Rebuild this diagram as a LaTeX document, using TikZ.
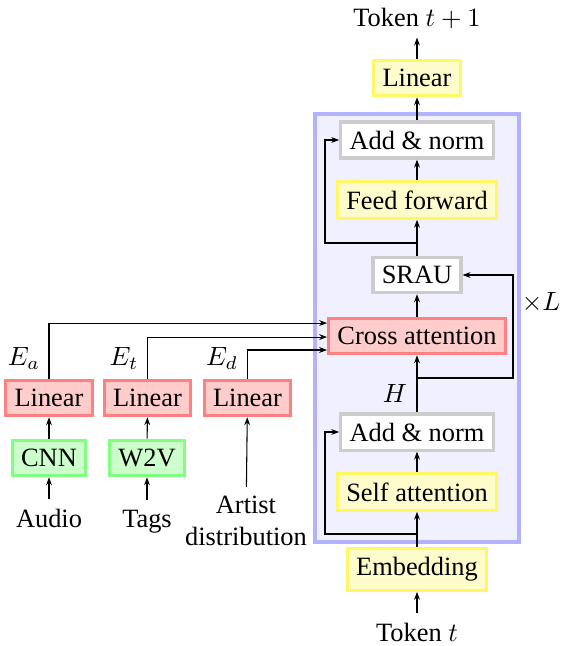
\documentclass[tikz,border=0pt]{standalone}
\usepackage{fontspec}
\setmainfont{Liberation Serif}
\usetikzlibrary{arrows.meta}
\begin{document}
\begin{tikzpicture}[x=0.3788pt,y=-0.3788pt,
  box/.style={draw, very thick, inner sep=3.33pt},
  ybox/.style={box, draw=yellow!60, fill=yellow!20},
  rbox/.style={box, draw=red!50, fill=red!20},
  gbox/.style={box, draw=green!50, fill=green!20},
  wbox/.style={box, draw=gray!40, fill=white},
  arr/.style={-{Stealth[length=3pt,width=2.2pt]}, thin}]
\useasboundingbox (0,0) rectangle (560,646);
\draw[very thick, draw=blue!30, fill=blue!6] (315,114) rectangle (519,542);
% central column
\node (tok1) at (417,18) {Token $t+1$};
\node[ybox] (lin) at (417,78) {Linear};
\node[wbox] (an2) at (417,140) {Add \& norm};
\node[ybox] (ff) at (417,200) {Feed forward};
\node[wbox] (srau) at (417,275) {SRAU};
\node[rbox] (ca) at (417,336) {Cross attention};
\node[wbox] (an1) at (417,432) {Add \& norm};
\node[ybox] (sa) at (417,492) {Self attention};
\node[ybox] (emb) at (417,569.5) {Embedding};
\node (tok) at (417,632) {Token $t$};
\node (H) at (395,393) {$H$};
\node (xl) at (541,303) {$\times L$};
% left side
\node[rbox] (la) at (49,398) {Linear};
\node[rbox] (lt) at (147.5,398) {Linear};
\node[rbox] (ld) at (247.5,398) {Linear};
\node[gbox] (cnn) at (49,458) {CNN};
\node[gbox] (w2v) at (147,458) {W2V};
\node[anchor=base] (audio) at (49,527) {Audio};
\node[anchor=base] (tags) at (147,527) {Tags};
\node[align=center] (artist) at (246,521) {Artist\\distribution};
\node (ea) at (24,358) {$E_a$};
\node (et) at (124,358) {$E_t$};
\node (ed) at (222,358) {$E_d$};
% coordinates
\coordinate (s1) at (417,534);
\coordinate (k1) at (325,432);
\coordinate (s2) at (417,378);
\coordinate (k2) at (513,275);
\coordinate (s3) at (417,243);
\coordinate (k3) at (325,140);
% arrows
\draw[arr] (audio) -- (cnn);
\draw[arr] (cnn) -- (la);
\draw[arr] (tags) -- (w2v);
\draw[arr] (w2v) -- (lt);
\draw[arr] (artist) -- (ld);
\draw[arr] (la.north) |- ([yshift=4.9pt]ca.west);
\draw[arr] (lt.north) |- ([yshift=-0.4pt]ca.west);
\draw[arr] (ld.north) |- ([yshift=-5.3pt]ca.west);
\draw[arr] (tok) -- (emb);
\draw[arr] (emb) -- (sa);
\draw[arr] (s1) -| (k1) -- (an1.west);
\draw[arr] (sa) -- (an1);
\draw[arr] (an1) -- (ca);
\draw[arr] (s2) -| (k2) -- (srau.east);
\draw[arr] (ca) -- (srau);
\draw[arr] (srau) -- (ff);
\draw[arr] (s3) -| (k3) -- (an2.west);
\draw[arr] (ff) -- (an2);
\draw[arr] (an2) -- (lin);
\draw[arr] (lin) -- (tok1);
\end{tikzpicture}
\end{document}
